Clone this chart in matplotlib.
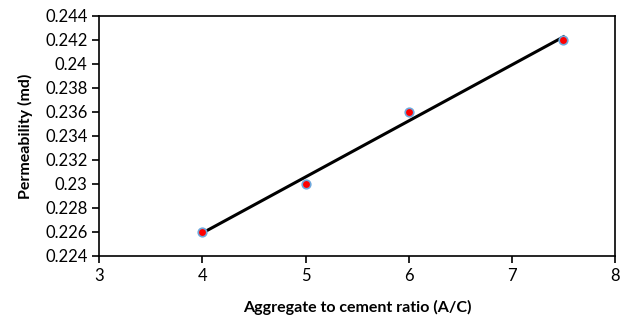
import matplotlib.pyplot as plt
import numpy as np

# дані з графіка
ratio = [4, 5, 6, 7.5]
permeability = [0.226, 0.230, 0.236, 0.242]
y_ticks = [0.224, 0.226, 0.228, 0.23, 0.232, 0.234, 0.236, 0.238, 0.24, 0.242, 0.244]
y_labels = ['0.224', '0.226', '0.228', '0.23', '0.232', '0.234', '0.236', '0.238', '0.24', '0.242', '0.244']

plt.rcParams['font.family'] = ['Lato', 'DejaVu Sans']

fig = plt.figure(figsize=(6.2, 3.26), dpi=100)
ax = fig.add_axes([0.16, 0.215, 0.832, 0.736])

# лінія тренду
k, b = np.polyfit(ratio, permeability, 1)
xs = np.array([ratio[0], ratio[-1]])
ax.plot(xs, k * xs + b, color='black', lw=2.2, zorder=2)

ax.scatter(ratio, permeability, s=38, color='red', edgecolors='#6fa8dc', linewidths=1.2, zorder=3,
           clip_on=False)

ax.set_xlim(3, 8)
ax.set_ylim(0.224, 0.244)
ax.set_yticks(y_ticks)
ax.set_yticklabels(y_labels)
ax.set_xticks([3, 4, 5, 6, 7, 8])
ax.tick_params(direction='out', length=5, width=1.2, labelsize=12, color='black')
for s in ax.spines.values():
    s.set_linewidth(1.2)

ax.set_xlabel('Aggregate to cement ratio (A/C)', fontsize=11.5, fontweight='bold', labelpad=12)
ax.set_ylabel('Permeability (md)', fontsize=11.5, fontweight='bold', labelpad=9)

fig.savefig('out.png', dpi=100)
